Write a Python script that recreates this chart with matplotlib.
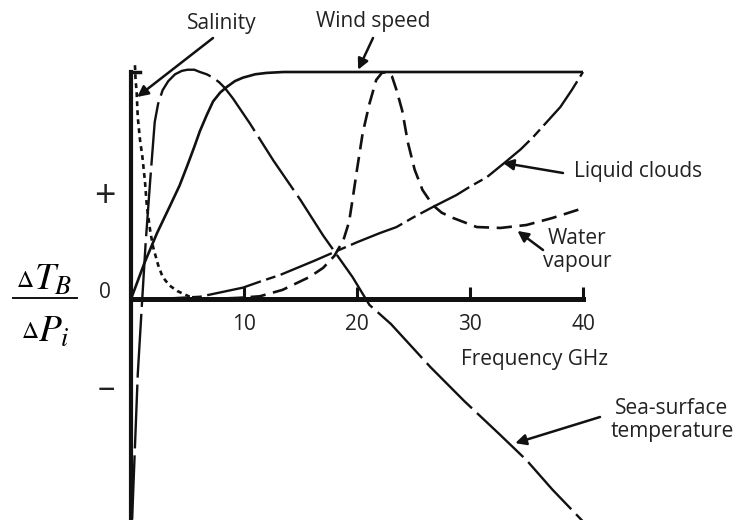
import matplotlib
matplotlib.use("Agg")
import matplotlib.pyplot as plt
from matplotlib.lines import Line2D

plt.rcParams['font.family'] = ['Open Sans', 'DejaVu Sans']
plt.rcParams['mathtext.fontset'] = 'stix'
plt.rcParams['lines.scale_dashes'] = False

# Sensitivity of brightness temperature to each parameter vs frequency (GHz)
wind_f = [0, 1.2, 2.3, 3.45, 4.3, 5.0, 5.6, 6.1, 6.7, 7.26, 7.9, 8.5, 9.2, 9.9, 11, 12, 13.5, 15, 40]
wind_v = [0, 0.16, 0.29, 0.41, 0.50, 0.59, 0.67, 0.74, 0.81, 0.87, 0.91, 0.935, 0.96, 0.975, 0.99, 0.996, 1.0, 1.0, 1.0]

sst_f = [0.1, 0.35, 0.6, 0.97, 1.3, 1.68, 2.1, 2.4, 2.8, 3.3, 3.9, 4.5, 5.0, 5.6, 6.1, 6.7, 7.26, 7.8,
         8.3, 9.0, 10.5, 12.6, 15, 17, 19.6, 21.1, 23, 26.5, 29.5, 32.7, 35, 37.3, 40]
sst_v = [-0.97, -0.65, -0.33, -0.02, 0.25, 0.51, 0.78, 0.86, 0.92, 0.96, 0.99, 1.005, 1.01, 1.01, 1.0, 0.99,
         0.975, 0.955, 0.93, 0.885, 0.775, 0.61, 0.436, 0.28, 0.097, -0.026, -0.11, -0.30, -0.45, -0.60,
         -0.71, -0.84, -0.98]

sal_f = [0.35, 0.4, 0.5, 0.6, 0.8, 1.0, 1.24, 1.4, 1.7, 1.95, 2.4, 2.8, 3.4, 4.1, 5.2, 6.1]
sal_v = [1.03, 0.97, 0.91, 0.80, 0.70, 0.63, 0.515, 0.41, 0.30, 0.23, 0.15, 0.097, 0.06, 0.035, 0.01, 0.0]

cloud_f = [0, 2, 3.9, 6.1, 8, 9.9, 11.5, 13.2, 14.7, 16.3, 18, 20, 22, 23.5, 25, 26.7, 28.8, 30, 31.5,
           33.3, 34.5, 35.6, 36.8, 38, 39, 40]
cloud_v = [0, 0.0, 0.004, 0.01, 0.03, 0.05, 0.078, 0.106, 0.137, 0.17, 0.207, 0.25, 0.29, 0.317, 0.36,
           0.405, 0.458, 0.495, 0.537, 0.61, 0.66, 0.714, 0.78, 0.846, 0.92, 1.0]

vap_f = [4.5, 7, 9.5, 11.4, 13.4, 15.8, 17, 18, 18.8, 19.3, 19.6, 20.0, 20.5, 21.1, 21.7, 22.2, 22.65,
         23.1, 23.5, 24.0, 24.5, 25.1, 25.8, 26.7, 27.5, 28.5, 30.6, 32.7, 35, 37.3, 40]
vap_v = [0.0, 0.0, 0.005, 0.012, 0.04, 0.097, 0.137, 0.19, 0.26, 0.34, 0.436, 0.57, 0.73, 0.86, 0.965,
         0.996, 1.0, 0.98, 0.92, 0.83, 0.69, 0.57, 0.48, 0.414, 0.38, 0.357, 0.317, 0.313, 0.326, 0.357, 0.40]

freq_ticks = [10, 20, 30, 40]

W, H = 739, 520
fig = plt.figure(figsize=(W / 100, H / 100), dpi=100)
ax = fig.add_axes([131 / W, 0, 452 / W, 1])
ax.set_xlim(0, 40)
ax.set_ylim(-(520 - 299) / 227, 299 / 227)

k = dict(color='#111111', clip_on=False, solid_capstyle='butt', dash_capstyle='butt')
ax.plot(wind_f, wind_v, lw=1.9, **k)
ax.plot(sst_f, sst_v, lw=1.7, dashes=(46, 5), **k)
ax.plot(sal_f, sal_v, lw=1.9, dashes=(3.5, 3), **k)
ax.plot(cloud_f, cloud_v, lw=1.7, dashes=(40, 4, 7, 4), **k)
ax.plot(vap_f, vap_v, lw=1.9, dashes=(11, 5.5), **k)

# axes drawn as thick spines crossing at the origin
for s in ['top', 'right']:
    ax.spines[s].set_visible(False)
ax.spines['left'].set_position(('data', 0))
ax.spines['left'].set_bounds(ax.get_ylim()[0], 1.0)
ax.spines['left'].set_linewidth(3.0)
ax.spines['bottom'].set_position(('data', 0))
ax.spines['bottom'].set_bounds(0, 40)
ax.spines['bottom'].set_linewidth(3.6)
ax.spines['left'].set_color('#111111')
ax.spines['bottom'].set_color('#111111')
ax.plot([0, 0.8], [1.0, 1.0], lw=2.5, color='#111111', clip_on=False)

ax.set_yticks([])
ax.set_xticks(freq_ticks)
ax.set_xticklabels([str(t) for t in freq_ticks])
ax.tick_params(axis='x', direction='in', length=9, width=2.2, color='#111111',
               labelsize=15, pad=11, labelcolor='#222222')
ax.patch.set_visible(False)


def fpx(x, y):
    return x / W, 1 - y / H


fig.text(*fpx(535, 360), 'Frequency GHz', fontsize=15, ha='center', va='center', color='#222222')
fig.text(*fpx(105, 197), '+', fontsize=27, ha='center', va='center', color='#222222')
fig.text(*fpx(106, 389), '–', fontsize=25, ha='center', va='center', color='#222222')
fig.text(*fpx(105, 292), '0', fontsize=15, ha='center', va='center', color='#222222')

# dT_B / dP_i label: small deltas beside large italic symbols
fig.text(*fpx(25, 281), r'$\Delta$', fontsize=17, ha='center', va='center')
fig.text(*fpx(34, 280), r'$T_B$', fontsize=27, ha='left', va='center')
fig.text(*fpx(30, 332), r'$\Delta$', fontsize=17, ha='center', va='center')
fig.text(*fpx(38, 332), r'$P_i$', fontsize=27, ha='left', va='center')
fig.add_artist(Line2D([13 / W, 77 / W], [1 - 298 / H] * 2, lw=1.4, color='#111111'))

arrow = dict(arrowstyle='-|>', mutation_scale=16, lw=1.8, color='#111111', shrinkA=0, shrinkB=0)
labels = [
    ('Salinity', (222, 23), (213, 38), (0.55, 0.89)),
    ('Wind speed', (373, 22), (373, 38), (20.1, 1.01)),
    ('Liquid clouds', (638, 172), (563, 173), (32.9, 0.60)),
    ('Water\nvapour', (577, 250), (543, 250), (34.2, 0.30)),
    ('Sea-surface\ntemperature', (672, 420), (600, 417), (34.0, -0.635)),
]
for text, tpos, tail, tip in labels:
    fig.text(*fpx(*tpos), text, fontsize=15, ha='center', va='center', linespacing=1.15,
             color='#222222')
    ax.annotate('', xy=tip, xycoords='data', xytext=(tail[0], H - tail[1]),
                textcoords='figure pixels', arrowprops=arrow)

fig.savefig('out.png', dpi=100, facecolor='white')
